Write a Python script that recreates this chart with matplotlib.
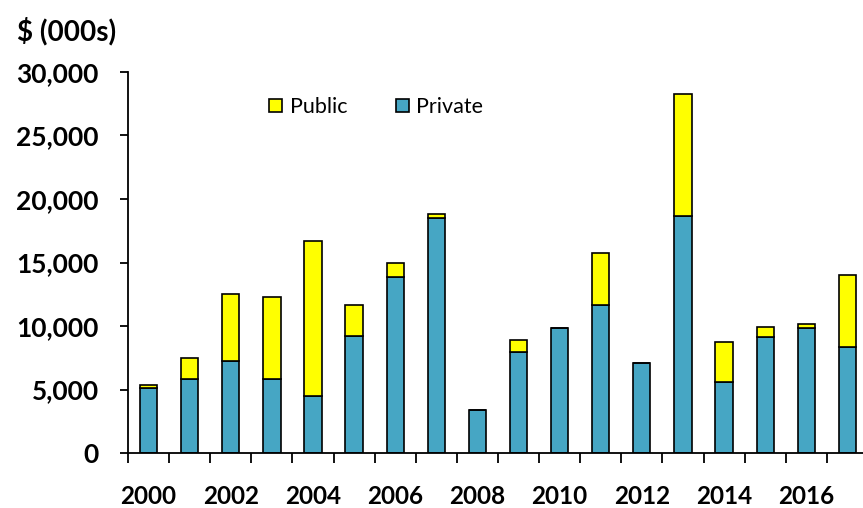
import matplotlib
matplotlib.use("Agg")
import matplotlib.pyplot as plt
from matplotlib.ticker import FuncFormatter, FixedLocator, NullFormatter
import numpy as np

years = list(range(2000, 2018))
private = [5100, 5800, 7270, 5830, 4490, 9240, 13830, 18530, 3390,
           7980, 9820, 11650, 7060, 18690, 5590, 9110, 9820, 8370]
public = [250, 1700, 5250, 6450, 12180, 2390, 1100, 290, 30,
          920, 40, 4120, 30, 9580, 3130, 840, 310, 5650]
label_years = [2000, 2002, 2004, 2006, 2008, 2010, 2012, 2014, 2016]
y_ticks = [0, 5000, 10000, 15000, 20000, 25000, 30000]

PRIVATE_COLOR = "#46A6C4"
PUBLIC_COLOR = "#FFFF00"
FONT = ["Lato", "DejaVu Sans"]

plt.rcParams["font.family"] = FONT

fig = plt.figure(figsize=(8.63, 5.08), dpi=100)
ax = fig.add_axes([128 / 863, 55 / 508, 1 - 128 / 863, 381 / 508])

x = np.arange(len(years))
width = 0.42
b_priv = ax.bar(x, private, width, color=PRIVATE_COLOR, edgecolor="black",
                linewidth=1.2, label="Private", zorder=2)
b_pub = ax.bar(x, public, width, bottom=private, color=PUBLIC_COLOR,
               edgecolor="black", linewidth=1.2, label="Public", zorder=2)

ax.set_xlim(-0.5, 17.38)
ax.set_ylim(0, 30000)

# y axis
ax.set_yticks(y_ticks)
ax.yaxis.set_major_formatter(FuncFormatter(lambda v, p: f"{int(v):,}"))
ax.tick_params(axis="y", direction="out", length=6, width=1.3, pad=15,
               labelsize=19)
for lbl in ax.get_yticklabels():
    lbl.set_fontweight("bold")

# x axis: marks at category boundaries, labels under every other bar
ax.xaxis.set_major_locator(FixedLocator(np.arange(-0.5, 18.0, 1.0)))
ax.xaxis.set_major_formatter(NullFormatter())
ax.xaxis.set_minor_locator(FixedLocator([years.index(y) for y in label_years]))
ax.set_xticklabels([str(y) for y in label_years], minor=True)
ax.tick_params(axis="x", which="major", direction="out", length=7, width=1.3)
ax.tick_params(axis="x", which="minor", length=0, pad=23, labelsize=17.5)
for lbl in ax.get_xticklabels(minor=True):
    lbl.set_fontweight("bold")

for s in ["top", "right"]:
    ax.spines[s].set_visible(False)
for s in ["left", "bottom"]:
    ax.spines[s].set_linewidth(1.3)
    ax.spines[s].set_color("black")
ax.spines["bottom"].set_zorder(3)

fig.text(17 / 863, 1 - 31 / 508, "$ (000s)", fontsize=20, fontweight="bold",
         va="center", ha="left")

leg = ax.legend(handles=[b_pub, b_priv], labels=["Public", "Private"],
                ncol=2, frameon=False, fontsize=15.5,
                handlelength=0.6, handleheight=0.6, handletextpad=0.35,
                columnspacing=2.25, loc="center left",
                bbox_to_anchor=(250 / 863, 1 - 107 / 508),
                bbox_transform=fig.transFigure)

fig.savefig("out.png", dpi=100)
